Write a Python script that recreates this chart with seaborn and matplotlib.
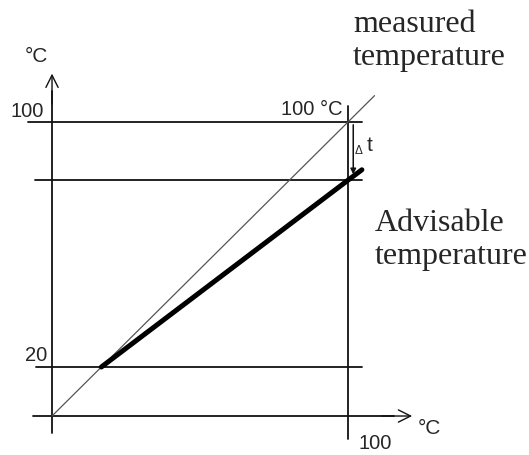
import matplotlib
matplotlib.use("Agg")
import matplotlib.pyplot as plt
import seaborn as sns
import pandas as pd

# values (degrees C)
origin = 4
top_line = 100
advisable_end = 81
low_line = 20
diag_x = [origin, 108.6]
advisable_x = [20, 100, 104.5]
advisable_y = [20, 81, 84.4]
h_lines = [100, 81, 20]
h_starts = [-3.8, -1.5, -1.2]
line_end = 104.5

sns.set_style("white")
fig = plt.figure(figsize=(5.29, 4.56), dpi=100)
ax = fig.add_axes([0, 0, 1, 1])
ax.set_xlim(-12.87, 158.7)
ax.set_ylim(-8.73, 140.16)
ax.axis("off")

sans = ["Liberation Sans", "DejaVu Sans"]
serif = ["Liberation Serif", "DejaVu Serif"]
k = "#111111"

# horizontal reference lines
for y, x0 in zip(h_lines, h_starts):
    ax.plot([x0, line_end], [y, y], color=k, lw=1.3)
# vertical line at 100
ax.plot([100, 100], [-3.5, 105.2], color=k, lw=1.3)

# axes with open arrow heads
ax.plot([origin, origin], [-1.5, 110], color=k, lw=1.3)
ax.annotate("", xy=(origin, 116.7), xytext=(origin, 105),
            arrowprops=dict(arrowstyle="->", color=k, lw=1.0, mutation_scale=22))
ax.plot([-2.2, 115], [origin, origin], color=k, lw=1.3)
ax.annotate("", xy=(121.7, origin), xytext=(110, origin),
            arrowprops=dict(arrowstyle="->", color=k, lw=1.0, mutation_scale=22))

# measured (diagonal) and advisable (thick) lines
diag = pd.DataFrame({"x": diag_x, "y": diag_x})
sns.lineplot(data=diag, x="x", y="y", ax=ax, color="#555555", lw=0.9)
adv = pd.DataFrame({"x": advisable_x, "y": advisable_y})
sns.lineplot(data=adv, x="x", y="y", ax=ax, color="black", lw=3.6,
             solid_capstyle="round")
ax.axis("off")

# delta t dimension line
ax.annotate("", xy=(101.7, advisable_end + 1), xytext=(101.7, top_line),
            arrowprops=dict(arrowstyle="-|>", color=k, lw=1.1, mutation_scale=8))
ax.text(102.3, 91.0, "Δ", fontsize=8.5, family=sans, ha="left", va="center")
ax.text(106.0, 92.5, "t", fontsize=15, family=sans, ha="left", va="center")

# labels
ax.text(-0.9, 121.6, "°C", fontsize=15, family=sans, ha="center", va="center")
ax.text(1.5, 100.6, "100", fontsize=14.5, family=sans, ha="right", va="bottom")
ax.text(2.5, 21.0, "20", fontsize=14.5, family=sans, ha="right", va="bottom")
ax.text(98.2, 101.2, "100 °C", fontsize=14.5, family=sans, ha="right", va="bottom")
ax.text(103.3, -1.4, "100", fontsize=14.5, family=sans, ha="left", va="top")
ax.text(126.3, 0.4, "°C", fontsize=15, family=sans, ha="center", va="center")

ax.text(101.6, 137.0, "measured\ntemperature", fontsize=23, family=serif,
        ha="left", va="top", linespacing=1.2)
ax.text(108.6, 72.0, "Advisable\ntemperature", fontsize=23, family=serif,
        ha="left", va="top", linespacing=1.2)

fig.savefig("out.png", dpi=100)
